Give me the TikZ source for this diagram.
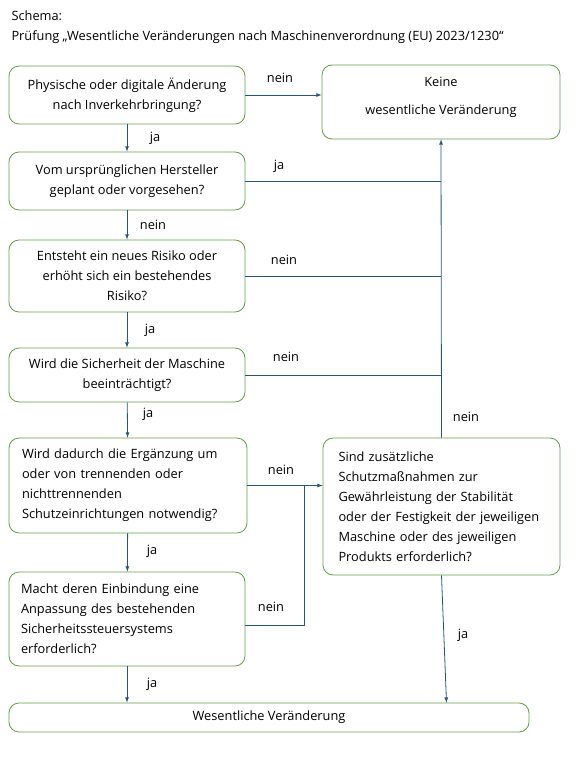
\documentclass[tikz,border=0pt]{standalone}
\usepackage{fontspec}
\setmainfont{Open Sans}
\usepackage{tikz}
\definecolor{boxgreen}{RGB}{98,158,68}
\definecolor{arrowblue}{RGB}{38,86,118}

\begin{document}
\begin{tikzpicture}[x=1pt,y=-1pt,
  frage/.style={rectangle,draw=boxgreen,thick,rounded corners=10pt,minimum width=236pt,inner xsep=12pt,font=\fontsize{12.8}{20}\selectfont},
  links/.style={frage,align=left,text width=212pt},
  mitte/.style={frage,align=center},
  pfeil/.style={draw=arrowblue,thick,-latex},
  linie/.style={draw=arrowblue,thick},
  antwort/.style={font=\fontsize{12.8}{14}\selectfont}]
\useasboundingbox (0,0) rectangle (575,765);
\path (8,16) node(kopf)[anchor=west,font=\fontsize{12.8}{14}\selectfont]{Schema:};
\path (8,37) node(titel)[anchor=west,font=\fontsize{12.8}{14}\selectfont]{Prüfung „Wesentliche Veränderungen nach Maschinenverordnung (EU) 2023/1230“};
% Fragen links
\path (127,95) node(f1)[mitte,minimum height=58pt]{Physische oder digitale Änderung\\nach Inverkehrbringung?};
\path (127,181) node(f2)[mitte,minimum height=58pt]{Vom ursprünglichen Hersteller\\geplant oder vorgesehen?};
\path (127,276) node(f3)[mitte,minimum height=72pt]{Entsteht ein neues Risiko oder\\erhöht sich ein bestehendes\\Risiko?};
\path (127,375) node(f4)[mitte,minimum height=54pt]{Wird die Sicherheit der Maschine\\beeinträchtigt?};
\path (128,485.5) node(f5)[links,minimum height=95pt,inner xsep=13pt]{Wird dadurch die Ergänzung um\\oder von trennenden oder\\nichttrennenden\\Schutzeinrichtungen notwendig?};
\path (127,619) node(f6)[links,minimum height=94pt]{Macht deren Einbindung eine\\Anpassung des bestehenden\\Sicherheitssteuersystems\\erforderlich?};
% rechte Seite
\path (441,102) node(keine)[mitte,minimum width=238pt,minimum height=74pt,text depth=13pt]{Keine\\[8pt]wesentliche Veränderung};
\path (441.5,506.5) node(sind)[links,minimum width=237pt,minimum height=137pt,text width=206pt,inner xsep=15.5pt]{Sind zusätzliche\\Schutzmaßnahmen zur\\Gewährleistung der Stabilität\\oder der Festigkeit der jeweiligen\\Maschine oder des jeweiligen\\Produkts erforderlich?};
\path (269,717.5) node(wv)[mitte,minimum width=520pt,minimum height=29pt]{Wesentliche Veränderung};
% Verbindungen
\coordinate (knick) at (304,485.5);
\draw[pfeil] (f1.east) -- (f1.east -| keine.west);
\draw[pfeil] (f1) -- (f2);
\draw[pfeil] (f2) -- (f3);
\draw[pfeil] (f3) -- (f4);
\draw[pfeil] (f4) -- (f5);
\draw[pfeil] (f5) -- (f6);
\draw[pfeil] (f6.south) -- (f6.south |- wv.north);
\draw[pfeil] (sind.north) -- (keine.south);
\draw[linie] (f2.east) -- (f2.east -| keine.south);
\draw[linie] (f3.east) -- (f3.east -| keine.south);
\draw[linie] (f4.east) -- (f4.east -| keine.south);
\draw[pfeil] (f5.east) -- (f5.east -| sind.west);
\draw[linie] ([yshift=-6pt]f6.east) -| (knick);
\draw[pfeil] (sind.south) -- ([xshift=5pt]sind.south |- wv.north);
% Beschriftungen
\path (280,78) node(a1)[antwort]{nein};
\path (155,138) node(a2)[antwort]{ja};
\path (279,166) node(a3)[antwort]{ja};
\path (153,225) node(a4)[antwort]{nein};
\path (284,260) node(a5)[antwort]{nein};
\path (150,330) node(a6)[antwort]{ja};
\path (286,357) node(a7)[antwort]{nein};
\path (148,414) node(a8)[antwort]{ja};
\path (466,417) node(a9)[antwort]{nein};
\path (281,470) node(a10)[antwort]{nein};
\path (152,551) node(a11)[antwort]{ja};
\path (271,607) node(a12)[antwort]{nein};
\path (152,684) node(a13)[antwort]{ja};
\path (463,635) node(a14)[antwort]{ja};
\end{tikzpicture}
\end{document}
